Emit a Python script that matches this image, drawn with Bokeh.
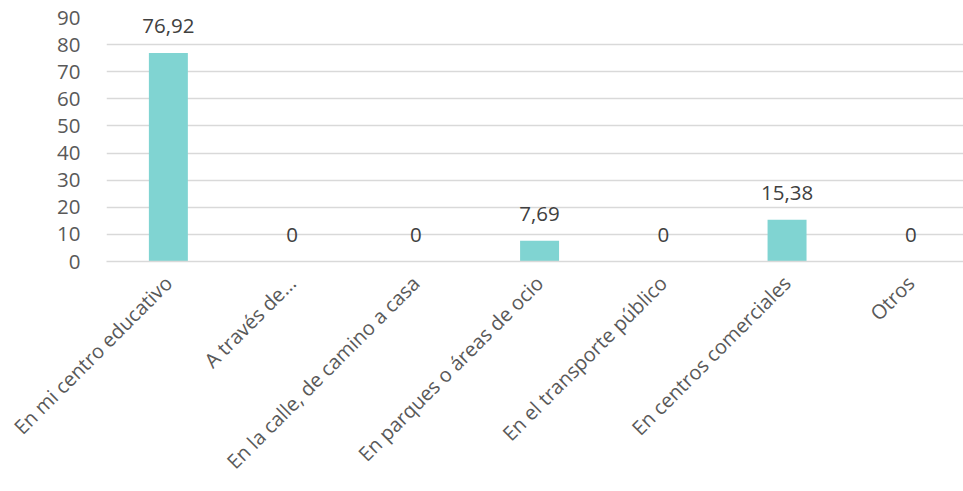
import math
from bokeh.plotting import figure
from bokeh.models import ColumnDataSource, Range1d, FixedTicker
from bokeh.core.properties import value
from bokeh.embed import file_html
from bokeh.resources import INLINE

categories = ["En mi centro educativo", "A través de...", "En la calle, de camino a casa",
              "En parques o áreas de ocio", "En el transporte público",
              "En centros comerciales", "Otros"]
values = [76.92, 0, 0, 7.69, 0, 15.38, 0]
value_labels = ["76,92", "0", "0", "7,69", "0", "15,38", "0"]
y_ticks = [0, 10, 20, 30, 40, 50, 60, 70, 80, 90]

FONT = "Open Sans"
xs = list(range(len(categories)))
src = ColumnDataSource(dict(x=xs, top=values, lab=value_labels))

p = figure(width=963, height=491, output_backend="svg", toolbar_location=None,
           x_range=Range1d(-0.5, 6.426), y_range=Range1d(0, 90))
p.min_border_left = 106
p.min_border_right = 0
p.min_border_top = 17
p.min_border_bottom = 230
p.outline_line_color = None
p.background_fill_color = "white"
p.border_fill_color = "white"

p.vbar(x="x", top="top", width=0.315, bottom=0, source=src, fill_color="#80D4D2", line_color=None)
p.text(x="x", y="top", text="lab", source=src, text_align="center", text_baseline="alphabetic",
       y_offset=-27, text_font=value(FONT), text_font_size="20.5px", text_color="#404040")

p.xgrid.grid_line_color = None
p.ygrid.grid_line_color = "#D9D9D9"
p.ygrid.grid_line_width = 1.3
p.ygrid.ticker = FixedTicker(ticks=y_ticks)

p.yaxis.ticker = FixedTicker(ticks=y_ticks)
p.yaxis.axis_line_color = None
p.yaxis.major_tick_line_color = None
p.yaxis.minor_tick_line_color = None
p.yaxis.major_label_text_font = FONT
p.yaxis.major_label_text_font_size = "20.5px"
p.yaxis.major_label_text_color = "#595959"
p.yaxis.major_label_standoff = 20

p.xaxis.ticker = FixedTicker(ticks=xs)
p.xaxis.major_label_overrides = {i: c for i, c in enumerate(categories)}
p.xaxis.major_label_orientation = math.pi / 4
p.xaxis.axis_line_color = "#D9D9D9"
p.xaxis.axis_line_width = 1.3
p.xaxis.major_tick_line_color = None
p.xaxis.minor_tick_line_color = None
p.xaxis.major_label_text_font = FONT
p.xaxis.major_label_text_font_size = "20px"
p.xaxis.major_label_text_color = "#595959"
p.xaxis.major_label_standoff = 12

open("out.html", "w").write(file_html(p, INLINE))
